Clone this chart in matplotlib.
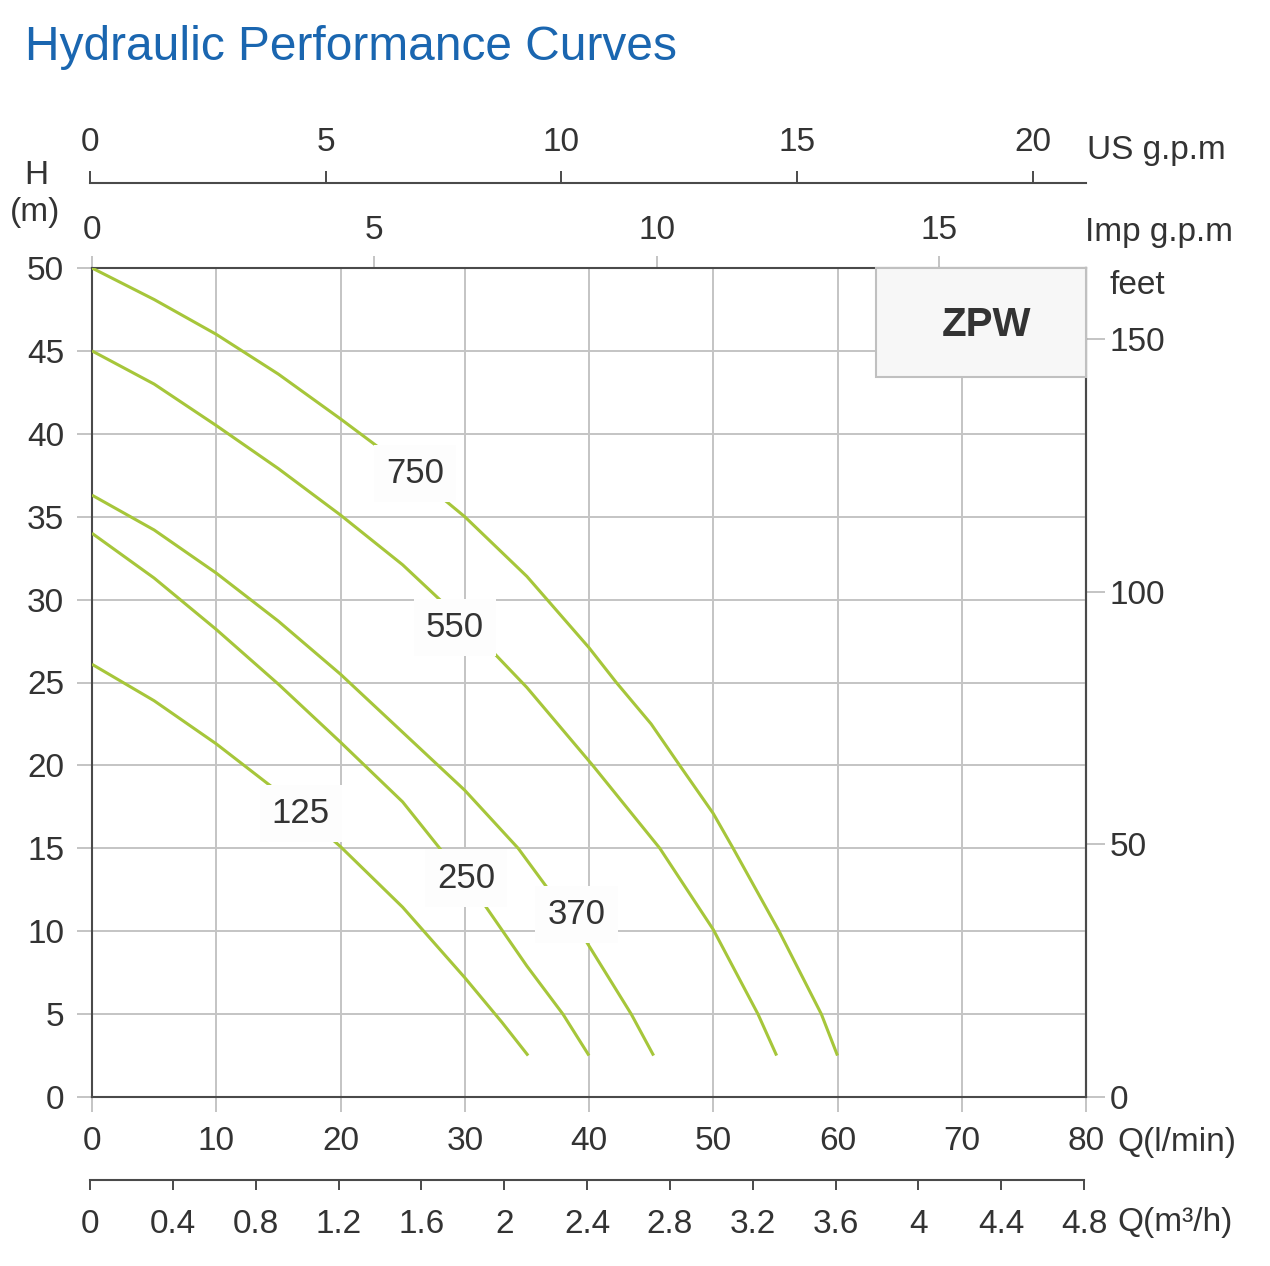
import matplotlib.pyplot as plt
from matplotlib.patches import Rectangle

# pump curves: flow Q (l/min) vs head H (m), one per motor size
q_750 = [0, 5, 10, 15, 20, 25, 30, 35, 40, 42.2, 45, 47.3, 50, 51.6, 55.3, 58.7, 60]
h_750 = [50, 48.1, 46.0, 43.6, 40.9, 38.1, 35.0, 31.4, 27.1, 25, 22.5, 20, 17.1, 15, 10, 5, 2.5]
q_550 = [0, 5, 10, 15, 20, 25, 28.7, 32.0, 35, 40.3, 45.7, 50, 53.6, 55.1]
h_550 = [45, 43.0, 40.5, 37.9, 35.1, 32.1, 29.5, 27.05, 24.7, 20, 15, 10.1, 5, 2.5]
q_370 = [0, 5, 10, 15, 20, 25, 30, 34.3, 39.6, 43.4, 45.2]
h_370 = [36.3, 34.2, 31.6, 28.7, 25.5, 22.0, 18.5, 15, 9.6, 5, 2.5]
q_250 = [0, 5, 10, 15, 20, 25, 31.4, 35, 37.9, 40]
h_250 = [34, 31.3, 28.2, 24.9, 21.4, 17.8, 11.8, 7.9, 5, 2.5]
q_125 = [0, 5, 10, 15, 20, 25, 30, 33, 35.1]
h_125 = [26.1, 23.9, 21.3, 18.4, 15.1, 11.45, 7.2, 4.5, 2.5]

labels = ["750", "550", "370", "250", "125"]
label_q = [26.0, 29.2, 39.0, 30.1, 16.8]
label_h = [37.6, 28.3, 11.0, 13.2, 17.1]

q_ticks = [0, 10, 20, 30, 40, 50, 60, 70, 80]
h_ticks = [0, 5, 10, 15, 20, 25, 30, 35, 40, 45, 50]
m3h_ticks = [0, 0.4, 0.8, 1.2, 1.6, 2, 2.4, 2.8, 3.2, 3.6, 4, 4.4, 4.8]
m3h_labels = ["0", "0.4", "0.8", "1.2", "1.6", "2", "2.4", "2.8", "3.2", "3.6", "4", "4.4", "4.8"]
imp_ticks = [0, 5, 10, 15]
us_ticks = [0, 5, 10, 15, 20]
ft_ticks = [0, 50, 100, 150]

IMP_GAL = 4.54609
US_GAL = 3.78541
FT = 0.3048

plt.rcParams["font.family"] = ["Liberation Sans", "DejaVu Sans"]

TXT = "#333333"
GRID = "#c4c4c4"
DARK = "#4a4a4a"
GREEN = "#a6c63a"
FS = 24

W, H = 1270, 1266
fig = plt.figure(figsize=(W / 100, H / 100), dpi=100)


def fx(px):
    return px / W


def fy(py):
    return 1 - py / H


ax = fig.add_axes([fx(92), fy(1097), fx(1086) - fx(92), fy(268) - fy(1097)])
ax.set_xlim(0, 80)
ax.set_ylim(0, 50)
ax.set_xticks(q_ticks)
ax.set_yticks(h_ticks)
ax.grid(True, color=GRID, lw=1.4)
ax.set_axisbelow(True)
for s in ax.spines.values():
    s.set_color(DARK)
    s.set_linewidth(1.5)
ax.tick_params(axis="both", length=11, width=1.4, color=GRID, labelcolor=TXT,
               labelsize=FS)
ax.tick_params(axis="x", pad=10)
ax.tick_params(axis="y", pad=9)

for q, h in [(q_750, h_750), (q_550, h_550), (q_370, h_370), (q_250, h_250), (q_125, h_125)]:
    ax.plot(q, h, color=GREEN, lw=2.2, solid_capstyle="butt", solid_joinstyle="round", zorder=3)

for lab, q, h in zip(labels, label_q, label_h):
    ax.text(q, h, lab, fontsize=25, color=TXT, ha="center", va="center", zorder=4,
            bbox=dict(boxstyle="square,pad=0.35", fc="#fdfdfd", ec="none"))

# model box in the top right corner
ax.add_patch(Rectangle((63.1, 43.45), 80 - 63.1, 50 - 43.45, transform=ax.transData,
                       fc="#f7f7f7", ec="#c0c0c0", lw=1.5, zorder=5, clip_on=False))
ax.text(72.0, 46.55, "ZPW", fontsize=29, fontweight="bold", color=TXT,
        ha="center", va="center", zorder=6)

# top Imp g.p.m axis
imp = ax.secondary_xaxis("top", functions=(lambda x: x / IMP_GAL, lambda x: x * IMP_GAL))
imp.set_xticks(imp_ticks)
imp.tick_params(length=9, width=1.4, color=GRID, labelcolor=TXT, labelsize=FS, pad=7)
imp.spines["top"].set_visible(False)

# right feet axis
ft = ax.secondary_yaxis("right", functions=(lambda y: y / FT, lambda y: y * FT))
ft.set_yticks(ft_ticks)
ft.tick_params(length=14, width=1.4, color=GRID, labelcolor=TXT, labelsize=FS, pad=3)
ft.spines["right"].set_color(DARK)
ft.spines["right"].set_linewidth(1.5)

# US g.p.m axis above
us = fig.add_axes([fx(90), fy(183), fx(1086) - fx(90), 0.0001])
us.set_xlim(0, 80 / US_GAL)
us.set_yticks([])
us.set_xticks(us_ticks)
for k in ["left", "right", "top"]:
    us.spines[k].set_visible(False)
us.spines["bottom"].set_color(DARK)
us.spines["bottom"].set_linewidth(1.5)
us.tick_params(axis="x", bottom=False, labelbottom=False, top=True, labeltop=True,
               length=9, width=1.4, color=DARK, labelcolor=TXT, labelsize=FS, pad=9)
us.patch.set_visible(False)

# m3/h axis below
m3 = fig.add_axes([fx(90), fy(1180), fx(1084) - fx(90), 0.0001])
m3.set_xlim(0, 4.8)
m3.set_yticks([])
m3.set_xticks(m3h_ticks)
m3.set_xticklabels(m3h_labels)
for k in ["left", "right", "top"]:
    m3.spines[k].set_visible(False)
m3.spines["bottom"].set_color(DARK)
m3.spines["bottom"].set_linewidth(1.5)
m3.tick_params(axis="x", length=7, width=1.4, color=DARK, labelcolor=TXT, labelsize=FS, pad=14)
m3.patch.set_visible(False)

fig.text(fx(25), fy(47), "Hydraulic Performance Curves", fontsize=34.5, color="#1a66b0",
         ha="left", va="center")
fig.text(fx(36), fy(175), "H", fontsize=FS, color=TXT, ha="center", va="center")
fig.text(fx(35), fy(212), "(m)", fontsize=FS, color=TXT, ha="center", va="center")
fig.text(fx(1087), fy(150), "US g.p.m", fontsize=FS, color=TXT, ha="left", va="center")
fig.text(fx(1085), fy(233), "Imp g.p.m", fontsize=FS, color=TXT, ha="left", va="center")
fig.text(fx(1109), fy(285), "feet", fontsize=FS, color=TXT, ha="left", va="center")
fig.text(fx(1117), fy(1143), "Q(l/min)", fontsize=FS, color=TXT, ha="left", va="center")
fig.text(fx(1117), fy(1222), "Q(m³/h)", fontsize=FS, color=TXT, ha="left", va="center")

fig.savefig("out.png", dpi=100)
